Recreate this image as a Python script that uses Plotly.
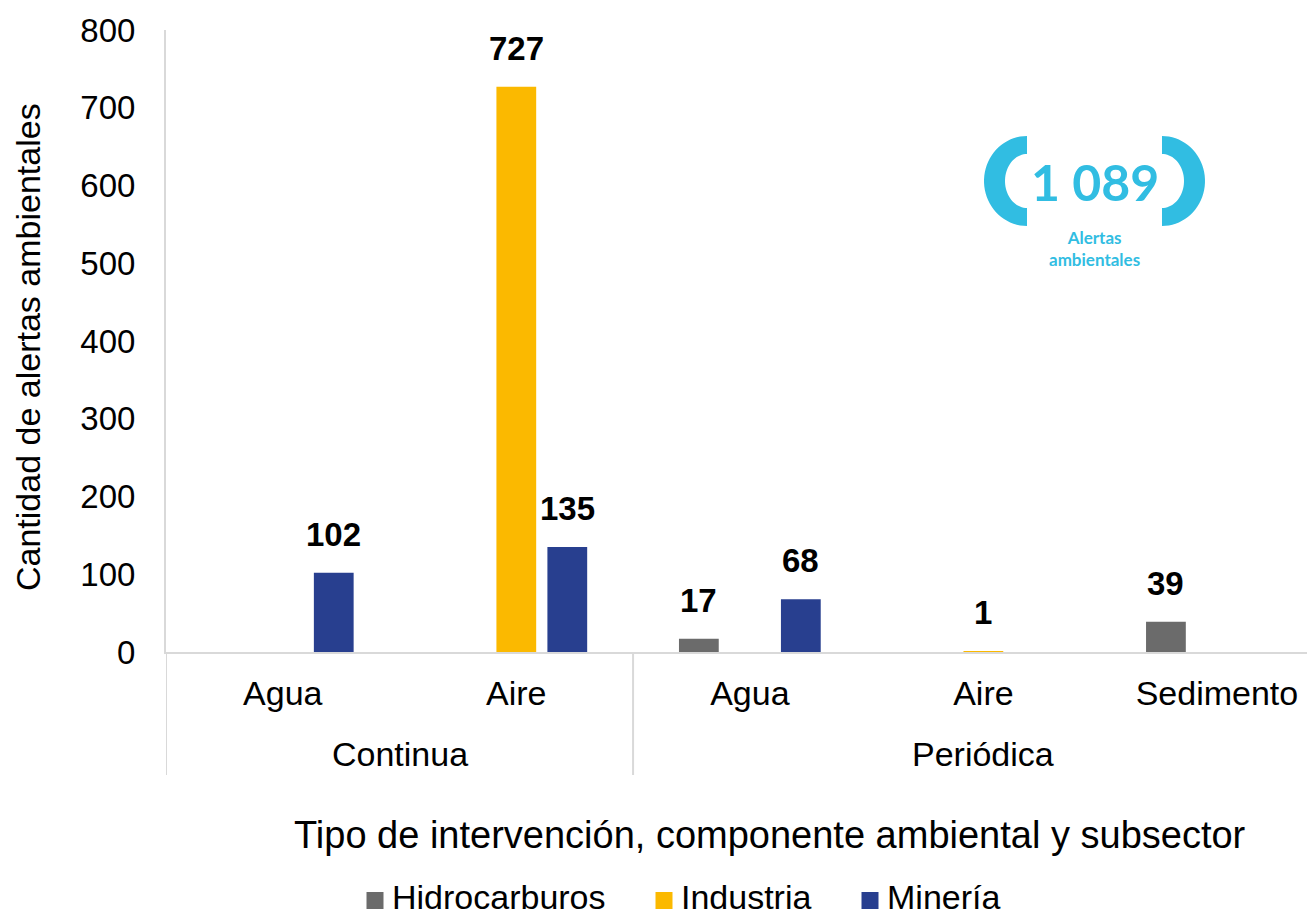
import numpy as np
import plotly.graph_objects as go

# data
tipo = ["Continua", "Continua", "Periódica", "Periódica", "Periódica"]
componente = ["Agua", "Aire", "Agua", "Aire", "Sedimento"]
series = ["Hidrocarburos", "Industria", "Minería"]
hidrocarburos = [None, None, 17, None, 39]
industria = [None, 727, None, 1, None]
mineria = [102, 135, 68, None, None]
total = 1089

colors = {"Hidrocarburos": "#6b6b6b", "Industria": "#fbb900", "Minería": "#283f8f"}
cyan = "#31bde2"
grid = "#d9d9d9"
font = "Liberation Sans, Arial, sans-serif"
fs = 34

# page offset: the html body has an 8px margin
OFF = 8
W, H = 1315, 909
L, R, T, B = 158, 8, 22, 265
pw, ph = W - L - R, H - T - B
bargap, ngroups = 0.345, 3


def px(x):
    # page pixel x -> paper
    return (x - OFF - L) / pw


def py(y):
    # page pixel y -> paper
    return (H - B - (y - OFF)) / ph


xi = list(range(len(componente)))
fig = go.Figure()
annotations = []
shapes = []
slot = (1 - bargap) / ngroups
for j, (name, vals) in enumerate(zip(series, [hidrocarburos, industria, mineria])):
    fig.add_trace(go.Bar(
        x=xi, y=vals, name=name, showlegend=False,
        marker_color=colors[name], marker_line_width=0,
    ))
    for i, v in zip(xi, vals):
        if v is None:
            continue
        annotations.append(dict(
            text=f"<b>{v}</b>", x=i + (j - 1) * slot, y=v, xref="x", yref="y",
            yanchor="bottom", yshift=18, showarrow=False,
            font=dict(size=fs - 1, color="black", family=font),
        ))

# legend drawn by hand (square + label)
leg_sq = [375, 664, 870]
for name, cx in zip(series, leg_sq):
    shapes.append(dict(type="rect", xref="paper", yref="paper",
                       x0=px(cx - 8.5), x1=px(cx + 8.5), y0=py(909), y1=py(892),
                       fillcolor=colors[name], line_width=0))
    annotations.append(dict(text=name, xref="paper", yref="paper", x=px(cx + 16), y=py(897),
                            xanchor="left", yanchor="middle", showarrow=False, borderpad=0,
                            font=dict(size=fs)))

# group labels (second level of the category axis)
groups = list(dict.fromkeys(tipo))
for g in groups:
    idx = [i for i, t in enumerate(tipo) if t == g]
    annotations.append(dict(text=g, x=float(np.mean(idx)), xref="x", y=py(754), yref="paper",
                            showarrow=False, font=dict(size=fs), yanchor="middle"))

# dividers between groups
bounds = [-0.5] + [i + 0.5 for i in range(len(tipo) - 1) if tipo[i] != tipo[i + 1]]
for b in bounds:
    shapes.append(dict(type="line", xref="x", yref="paper", x0=b, x1=b, y0=0, y1=py(775),
                       line=dict(color=grid, width=2)))


# badge brackets
def half_ring(cx, cy, side):
    a = np.linspace(np.pi / 2, 3 * np.pi / 2, 40)
    if side == "right":
        a = a + np.pi
    ox, oy = cx + 43 * np.cos(a), cy - 45 * np.sin(a)
    ix, iy = cx + 22 * np.cos(a[::-1]), cy - 27 * np.sin(a[::-1])
    xs = np.concatenate([ox, ix])
    ys = np.concatenate([oy, iy])
    pts = [f"{px(x):.5f},{py(y):.5f}" for x, y in zip(xs, ys)]
    return "M " + " L ".join(pts) + " Z"


shapes += [
    dict(type="path", xref="paper", yref="paper", path=half_ring(1027, 181, "left"),
         fillcolor=cyan, line_width=0),
    dict(type="path", xref="paper", yref="paper", path=half_ring(1162, 181, "right"),
         fillcolor=cyan, line_width=0),
]

annotations += [
    dict(text=f"<b>{total // 1000} {total % 1000:03d}</b>", xref="paper", yref="paper",
         x=px(1095), y=py(182), xanchor="center", yanchor="middle", showarrow=False,
         font=dict(family="Lato, sans-serif", size=50, color=cyan)),
    dict(text="<b>Alertas<br>ambientales</b>", xref="paper", yref="paper",
         x=px(1094), y=py(248), xanchor="center", yanchor="middle", showarrow=False,
         font=dict(family="Lato, sans-serif", size=17, color=cyan)),
    dict(text="Tipo de intervención, componente ambiental y subsector", xref="paper", yref="paper",
         x=px(770), y=py(835), xanchor="center", yanchor="middle", showarrow=False,
         font=dict(size=38)),
    dict(text="Cantidad de alertas ambientales", xref="paper", yref="paper", textangle=-90,
         x=px(28), y=py(347), xanchor="center", yanchor="middle", showarrow=False,
         font=dict(size=fs)),
]

fig.update_layout(
    width=W, height=H,
    margin=dict(l=L, r=R, t=T, b=B),
    plot_bgcolor="white", paper_bgcolor="white",
    font=dict(family=font, size=fs, color="black"),
    barmode="group", bargap=bargap, bargroupgap=0.22,
    showlegend=False,
    shapes=shapes, annotations=annotations,
)
fig.update_xaxes(
    range=[-0.5, 4.42], showline=True, linecolor=grid, linewidth=2, showgrid=False,
    zeroline=False, tickvals=xi, ticktext=componente, ticks="", ticklabelstandoff=10,
    tickfont=dict(size=fs), automargin=False,
)
fig.update_yaxes(
    range=[0, 800], dtick=100, showgrid=False, zeroline=False,
    showline=True, linecolor=grid, linewidth=2,
    tickfont=dict(size=fs - 1), ticks="", ticklabelstandoff=22, automargin=False,
)

fig.write_html("out.html")
